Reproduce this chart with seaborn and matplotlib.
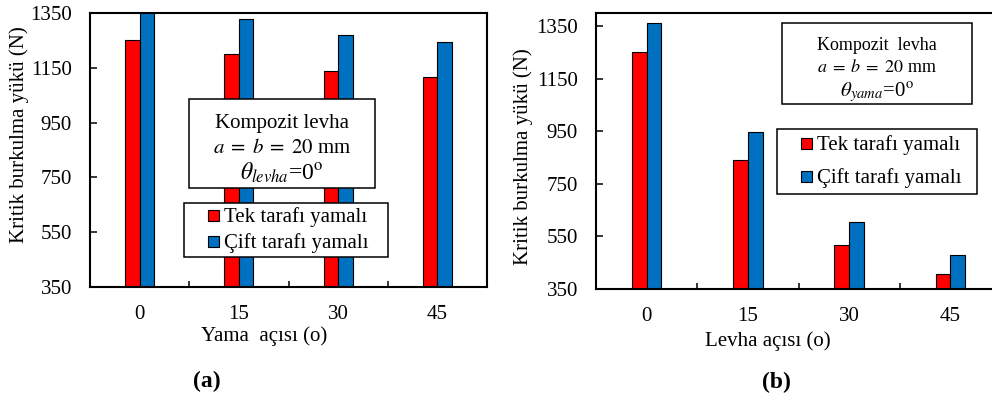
import numpy as np
import pandas as pd
import matplotlib
matplotlib.use("Agg")
import matplotlib.pyplot as plt
import seaborn as sns
from matplotlib.patches import Rectangle, Patch
from matplotlib.legend_handler import HandlerPatch
from matplotlib.ticker import FixedLocator

# ---------------- data ----------------
angles = ["0", "15", "30", "45"]
series = ["Tek tarafı yamalı", "Çift tarafı yamalı"]
# (a) patch angle varies, plate angle 0
yama_tek = [1250, 1202, 1137, 1118]
yama_cift = [1360, 1327, 1270, 1245]
# (b) plate angle varies, patch angle 0
levha_tek = [1252, 841, 519, 408]
levha_cift = [1363, 949, 604, 481]
yticks = [350, 550, 750, 950, 1150, 1350]
colors = ["#FF0000", "#0070C0"]

sns.set_theme(style="white")
plt.rcParams["font.family"] = ["Liberation Serif", "DejaVu Serif"]
plt.rcParams["mathtext.fontset"] = "stix"
plt.rcParams.update({"text.color": "black", "axes.labelcolor": "black",
                     "xtick.color": "black", "ytick.color": "black",
                     "axes.edgecolor": "black"})


def make_df(tek, cift):
    return pd.DataFrame({"angle": angles * 2,
                         "load": list(tek) + list(cift),
                         "type": [series[0]] * len(angles) + [series[1]] * len(angles)})


def square_patch(legend, orig_handle, xdescent, ydescent, width, height, fontsize):
    s = 0.53 * fontsize
    return Rectangle((-xdescent + width - s, -ydescent + 0.03 * fontsize), s, s)


fig = plt.figure(figsize=(9.92, 3.98), dpi=100)
axA = fig.add_axes([90 / 992, 111 / 398, 397 / 992, 274 / 398])
axB = fig.add_axes([596 / 992, 109 / 398, 405 / 992, 276 / 398])


def draw(ax, df, ylim, xlabel, xlab_pos, ylab_pos):
    sns.barplot(data=df, x="angle", y="load", hue="type", order=angles,
                hue_order=series, palette=colors, width=0.29, saturation=1,
                edgecolor="black", linewidth=0.8, errorbar=None, legend=False, ax=ax)
    ax.set_ylim(*ylim)
    ax.set_xlim(-0.5, 3.5)
    ax.set_yticks(yticks)
    ax.xaxis.set_minor_locator(FixedLocator([0.5, 1.5, 2.5]))
    ax.tick_params(axis="x", which="major", length=0, pad=13, labelsize=15, bottom=True)
    ax.tick_params(axis="x", which="minor", direction="in", length=4, width=1.1, bottom=True)
    ax.tick_params(axis="y", direction="in", length=5, width=1.1, pad=13, labelsize=15, left=True)
    for sp in ax.spines.values():
        sp.set_visible(True)
        sp.set_color("black")
        sp.set_linewidth(1.5)
    ax.set_xlabel(xlabel, fontsize=15)
    ax.set_ylabel("Kritik burkulma yükü (N)", fontsize=15)
    ax.xaxis.set_label_coords(*xlab_pos)
    ax.yaxis.set_label_coords(*ylab_pos)


draw(axA, make_df(yama_tek, yama_cift), (350, 1350), "Yama  açısı (o)",
     (0.438, -0.142), (-0.154, 0.555))
draw(axB, make_df(levha_tek, levha_cift), (350, 1400), "Levha açısı (o)",
     (0.425, -0.152), (-0.156, 0.478))

handles = [Patch(facecolor=c, edgecolor="black", linewidth=0.8) for c in colors]


def add_legend(ax, x0, top, w, borderpad, handlelength, labelspacing):
    leg = ax.legend(handles=handles, labels=series, loc="upper left",
                    bbox_to_anchor=(x0, top, w, 0), mode="expand", borderaxespad=0,
                    borderpad=borderpad, handlelength=handlelength, handleheight=0.7,
                    handletextpad=0.25, labelspacing=labelspacing, fontsize=15,
                    frameon=True, fancybox=False, framealpha=1, edgecolor="black",
                    handler_map={Patch: HandlerPatch(patch_func=square_patch)})
    leg.get_frame().set_linewidth(1.1)
    leg.set_zorder(6)
    return leg


add_legend(axA, 0.2368, 0.3066, 0.5139, 0.19, 1.49, 0.29)
add_legend(axB, 0.4469, 0.5797, 0.4938, 0.29, 1.39, 0.625)


def add_note(ax, box, xc, ys, lines, sizes):
    x0, y0, x1, y1 = box
    ax.add_patch(Rectangle((x0, y0), x1 - x0, y1 - y0, transform=ax.transAxes,
                           facecolor="white", edgecolor="black", linewidth=1.1,
                           zorder=5, clip_on=False))
    for y, t, fs in zip(ys, lines, sizes):
        ax.text(xc, y, t, transform=ax.transAxes, ha="center", va="center",
                fontsize=fs, zorder=6)


add_note(axA, (0.250, 0.360, 0.718, 0.686), 0.4836, (0.595, 0.507, 0.418),
         ["Kompozit levha", r"$a\;=\;b\;=\;20$ mm",
          r"$\theta_{levha}$=0$^{\mathrm{o}}$"], (15, 15, 17))
add_note(axB, (0.4585, 0.670, 0.928, 0.963), 0.693, (0.884, 0.801, 0.712),
         ["Kompozit  levha", r"$a\;=\;b\;=\;20$ mm",
          r"$\theta_{yama}$=0$^{\mathrm{o}}$"], (13, 13, 15))

fig.text(207 / 992, 1 - 381 / 398, "(a)", ha="center", va="center",
         fontsize=17, fontweight="bold")
fig.text(776 / 992, 1 - 382 / 398, "(b)", ha="center", va="center",
         fontsize=17, fontweight="bold")

fig.savefig("out.png", dpi=100)
